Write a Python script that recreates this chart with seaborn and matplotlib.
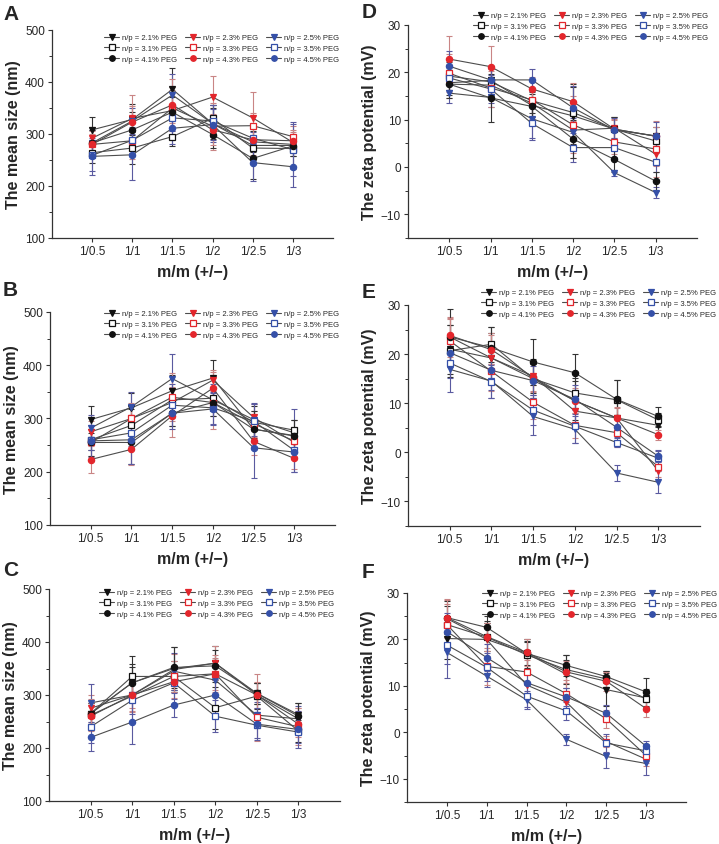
import numpy as np
import pandas as pd
import matplotlib
matplotlib.use("Agg")
import matplotlib.pyplot as plt
from matplotlib.lines import Line2D
from matplotlib.ticker import MultipleLocator
import seaborn as sns

# ---------------- data ----------------
categories = ['1/0.5', '1/1', '1/1.5', '1/2', '1/2.5', '1/3']
series_labels = ['n/p = 2.1% PEG', 'n/p = 2.3% PEG', 'n/p = 2.5% PEG',
                 'n/p = 3.1% PEG', 'n/p = 3.3% PEG', 'n/p = 3.5% PEG',
                 'n/p = 4.1% PEG', 'n/p = 4.3% PEG', 'n/p = 4.5% PEG']

# Panel A: mean size (nm)
A_vals = [[308, 328, 386, 320, 285, 280],
          [292, 330, 345, 371, 331, 284],
          [283, 325, 375, 320, 278, 278],
          [264, 273, 295, 330, 273, 272],
          [280, 287, 350, 315, 316, 295],
          [259, 288, 331, 325, 292, 270],
          [283, 308, 342, 299, 253, 277],
          [280, 323, 356, 308, 289, 287],
          [257, 260, 311, 318, 245, 237]]
A_errs = [[25, 30, 41, 30, 20, 15],
          [22, 45, 40, 40, 50, 20],
          [25, 25, 40, 35, 25, 45],
          [20, 30, 18, 25, 20, 15],
          [25, 35, 55, 45, 25, 20],
          [30, 25, 25, 30, 20, 50],
          [25, 35, 30, 25, 40, 20],
          [20, 30, 35, 30, 30, 20],
          [35, 48, 30, 30, 36, 38]]

# Panel B: mean size (nm)
B_vals = [[298, 320, 352, 376, 280, 268],
          [275, 300, 330, 372, 302, 255],
          [282, 322, 375, 335, 298, 273],
          [260, 287, 335, 338, 293, 278],
          [255, 300, 340, 330, 290, 258],
          [260, 273, 325, 320, 295, 240],
          [255, 255, 310, 330, 280, 267],
          [223, 242, 305, 357, 257, 225],
          [258, 260, 310, 318, 245, 237]]
B_errs = [[25, 28, 30, 33, 20, 15],
          [20, 25, 30, 20, 25, 20],
          [25, 28, 46, 30, 30, 45],
          [20, 30, 20, 20, 30, 20],
          [25, 30, 45, 50, 25, 20],
          [20, 25, 40, 30, 35, 40],
          [25, 40, 25, 25, 35, 30],
          [25, 30, 40, 30, 25, 20],
          [30, 45, 30, 30, 57, 38]]

# Panel C: mean size (nm)
C_vals = [[265, 323, 350, 360, 303, 263],
          [275, 300, 348, 360, 300, 255],
          [285, 300, 345, 328, 262, 255],
          [265, 335, 335, 276, 298, 232],
          [262, 298, 335, 340, 258, 240],
          [240, 290, 323, 260, 243, 230],
          [265, 323, 352, 355, 303, 260],
          [260, 300, 325, 340, 300, 245],
          [220, 249, 281, 300, 245, 235]]
C_errs = [[20, 35, 40, 32, 20, 22],
          [25, 25, 30, 32, 40, 20],
          [35, 35, 35, 30, 25, 25],
          [20, 38, 30, 40, 25, 20],
          [30, 30, 30, 30, 45, 35],
          [30, 40, 30, 30, 25, 20],
          [20, 30, 38, 30, 20, 25],
          [25, 30, 30, 35, 25, 25],
          [25, 42, 23, 30, 30, 35]]

# Panel D: zeta potential (mV)
D_vals = [[17.8, 18.3, 13.0, 10.8, 8.0, 6.5],
          [17.5, 17.3, 13.5, 7.8, 8.2, 2.7],
          [15.6, 14.7, 10.2, 7.3, -1.2, -5.4],
          [19.2, 18.0, 14.0, 11.5, 8.0, 5.5],
          [19.8, 16.7, 14.2, 8.9, 5.3, 3.8],
          [18.8, 16.5, 9.2, 4.1, 4.1, 1.0],
          [17.5, 14.6, 12.8, 5.9, 1.6, -3.0],
          [22.8, 21.2, 16.5, 13.8, 8.0, 6.5],
          [21.3, 18.4, 18.4, 12.5, 7.8, 6.6]]
D_errs = [[2.5, 3, 2.5, 6, 2.5, 2],
          [3, 3, 3, 6, 2, 2.5],
          [2, 2, 4, 3, 0.6, 1.1],
          [3, 3, 2.5, 6, 2.5, 1.5],
          [4, 4, 4, 6, 2.5, 5.9],
          [2.5, 3, 3.4, 3.1, 2, 2],
          [3, 5, 3, 4, 2.6, 2],
          [4.8, 4.4, 2.5, 4, 2, 2],
          [3.3, 3, 2.4, 4.7, 2.6, 2.9]]

# Panel E: zeta potential (mV)
E_vals = [[21.0, 19.2, 15.0, 10.5, 7.0, 5.5],
          [23.5, 19.2, 15.5, 8.4, 7.0, -3.8],
          [16.9, 14.5, 7.3, 4.7, -4.2, -6.1],
          [20.7, 22.0, 15.0, 12.1, 10.7, 6.6],
          [22.7, 16.5, 10.2, 5.5, 4.0, -2.9],
          [18.2, 14.4, 8.6, 5.3, 2.0, -1.2],
          [23.5, 21.3, 18.4, 16.2, 10.8, 7.3],
          [23.8, 20.9, 15.3, 10.5, 7.0, 3.6],
          [20.3, 16.7, 14.6, 10.8, 5.1, -0.8]]
E_errs = [[5, 5, 4, 4, 3.5, 2],
          [4, 5, 3, 3, 2, 1.2],
          [4.6, 3.5, 3.7, 2.8, 1.6, 2.2],
          [5.3, 3.6, 3, 3, 4, 1.5],
          [4.5, 4, 3.5, 2.5, 3, 1],
          [3, 3.4, 3, 3.4, 1, 1.5],
          [5.6, 4.3, 4.6, 3.8, 3.9, 1.9],
          [3.5, 3, 3, 2.5, 2.2, 1],
          [3, 4, 3, 3, 2, 1.2]]

# Panel F: zeta potential (mV)
F_vals = [[20.2, 20.0, 17.0, 12.5, 9.2, 7.4],
          [24.5, 20.0, 10.2, 6.5, -2.0, -5.8],
          [17.2, 12.1, 7.0, -1.5, -5.2, -6.7],
          [23.2, 20.5, 16.7, 13.5, 11.5, 7.2],
          [23.2, 14.2, 13.0, 8.3, 2.9, -5.0],
          [18.8, 14.0, 7.8, 4.6, -2.3, -4.0],
          [24.7, 22.6, 17.0, 14.4, 12.0, 8.7],
          [24.7, 20.6, 17.2, 13.0, 11.0, 5.1],
          [21.7, 16.1, 10.7, 7.6, 4.1, -3.0]]
F_errs = [[4.5, 4, 2.5, 3, 3.5, 2],
          [4.1, 3.5, 2.5, 2.5, 1.2, 1.5],
          [5.5, 2.4, 2, 1.2, 2.4, 2.5],
          [4, 3, 3, 3.2, 1.8, 2],
          [4.4, 4, 2.5, 3, 1.9, 1.5],
          [4, 3, 2.4, 2, 2, 1.5],
          [3.5, 2.4, 3.2, 2.3, 1.3, 3.1],
          [4.1, 3, 3, 2.4, 2, 1.9],
          [4, 3, 2.5, 2, 1.8, 1.2]]

# ---------------- styles ----------------
sns.set_theme(style="ticks")
plt.rcParams['font.family'] = ['Liberation Sans', 'DejaVu Sans']

BLACK, RED, BLUE = '#111111', '#e3262c', '#3550a8'
ERR = {BLACK: '#333333', RED: '#c98585', BLUE: '#5a5aa0'}
LINE = '#4d4d4d'
colors = [BLACK, RED, BLUE] * 3
markers = ['v'] * 3 + ['s'] * 3 + ['o'] * 3
filled = [True] * 3 + [False] * 3 + [True] * 3

W, H = 719, 845
fig = plt.figure(figsize=(W / 100, H / 100), dpi=100)

# (letter, vals, errs, ylabel, ylim, major, axes px [left, right, top, bottom], legend anchor px, letter px)
panels = [
    ('A', A_vals, A_errs, 'The mean size (nm)', (100, 500), 100, (52, 333, 31, 239), (104, 35), (3, 14)),
    ('B', B_vals, B_errs, 'The mean size (nm)', (100, 500), 100, (50, 335, 313, 526), (104, 311), (3, 291)),
    ('C', C_vals, C_errs, 'The mean size (nm)', (100, 500), 100, (49, 340, 590, 802), (99, 590), (3, 571)),
    ('D', D_vals, D_errs, 'The zeta potential (mV)', (-15, 30), 10, (408, 697, 26, 239), (473, 13), (362, 12)),
    ('E', E_vals, E_errs, 'The zeta potential (mV)', (-15, 30), 10, (408, 700, 306, 527), (481, 290), (362, 292)),
    ('F', F_vals, F_errs, 'The zeta potential (mV)', (-15, 30), 10, (407, 686, 594, 803), (482, 591), (362, 572)),
]

xpos = np.arange(len(categories))

for letter, vals, errs, ylab, ylim, major, (l, r, t, b), (lx, ly), (tx, ty) in panels:
    ax = fig.add_axes([l / W, 1 - b / H, (r - l) / W, (b - t) / H])
    for i in range(len(series_labels)):
        c = colors[i]
        df = pd.DataFrame({'x': xpos, 'y': vals[i]})
        sns.lineplot(data=df, x='x', y='y', ax=ax, color=LINE, lw=0.8,
                     zorder=2, legend=False)
        ax.errorbar(xpos, vals[i], yerr=errs[i], fmt='none', ecolor=ERR[c],
                    elinewidth=0.8, capsize=2, capthick=0.8, zorder=1)
        ax.plot(xpos, vals[i], ls='none', marker=markers[i], ms=4.5,
                mfc=c if filled[i] else 'white', mec=c, mew=0.9, zorder=3)
    ax.set_xlim(-1, 6)
    ax.set_ylim(*ylim)
    ax.set_xticks(xpos)
    ax.set_xticklabels(categories)
    ax.yaxis.set_major_locator(MultipleLocator(major))
    ax.yaxis.set_minor_locator(MultipleLocator(major / 2))
    ax.tick_params(axis='both', which='major', labelsize=8.5, direction='out',
                   length=3, width=0.8, color='#333333', pad=2)
    ax.tick_params(axis='y', which='minor', direction='out', length=2,
                   width=0.7, color='#333333')
    if ylim[0] < 0:
        ax.set_yticks([-10, 0, 10, 20, 30])
        ax.set_yticklabels(['\u221210', '0', '10', '20', '30'])
    sns.despine(ax=ax)
    for s in ('left', 'bottom'):
        ax.spines[s].set_color('#333333')
        ax.spines[s].set_linewidth(0.9)
    ax.set_xlabel('m/m (+/\u2212)', fontsize=11.5, fontweight='bold', labelpad=5)
    ax.set_ylabel(ylab, fontsize=11.5, fontweight='bold', labelpad=3)

    # legend in row-major visual order (ncol=3 fills column-wise)
    order = [0, 3, 6, 1, 4, 7, 2, 5, 8]
    handles = []
    for i in order:
        c = colors[i]
        handles.append(Line2D([0], [0], color=LINE, lw=0.8, marker=markers[i],
                              ms=4, mfc=c if filled[i] else 'white', mec=c, mew=0.9))
    ax.legend(handles, [series_labels[i] for i in order], ncol=3,
              loc='upper left', bbox_to_anchor=(lx / W, 1 - ly / H),
              bbox_transform=fig.transFigure, frameon=False, fontsize=5.5,
              handlelength=2.0, handletextpad=0.3, columnspacing=1.1,
              labelspacing=0.45, borderpad=0, borderaxespad=0)
    fig.text(tx / W, 1 - ty / H, letter, fontsize=15, fontweight='bold',
             va='center', ha='left')

fig.savefig('out.png', dpi=100)
